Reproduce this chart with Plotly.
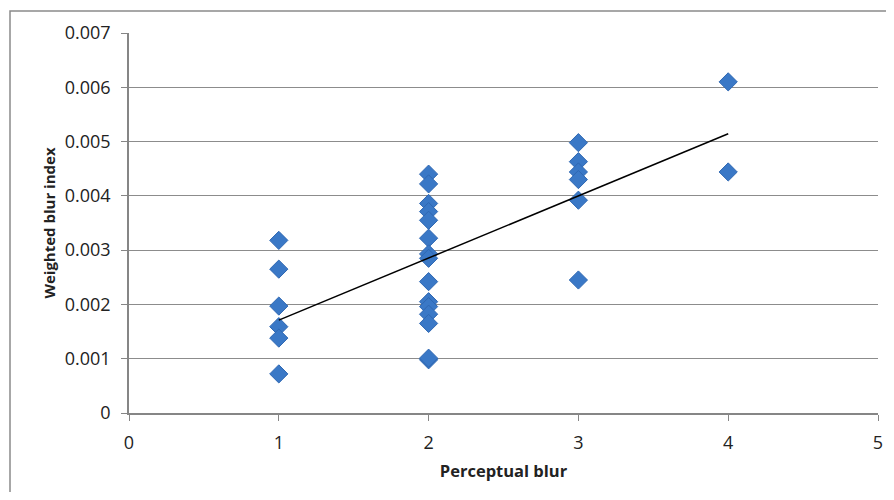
import numpy as np
import plotly.graph_objects as go

# Data
perceptual_blur = [1, 1, 1, 1, 1, 1,
                   2, 2, 2, 2, 2, 2, 2, 2, 2, 2, 2, 2, 2, 2, 2,
                   3, 3, 3, 3, 3, 3,
                   4, 4]
weighted_blur_index = [0.00318, 0.00265, 0.00197, 0.00159, 0.00138, 0.00072,
                       0.00440, 0.00422, 0.00386, 0.00371, 0.00355, 0.00322, 0.00293,
                       0.00285, 0.00242, 0.00205, 0.00196, 0.00182, 0.00165, 0.00098, 0.00101,
                       0.00498, 0.00463, 0.00444, 0.00430, 0.00392, 0.00245,
                       0.00610, 0.00444]

x_ticks = [0, 1, 2, 3, 4, 5]
y_ticks = [0, 0.001, 0.002, 0.003, 0.004, 0.005, 0.006, 0.007]
y_tick_labels = ["0", "0.001", "0.002", "0.003", "0.004", "0.005", "0.006", "0.007"]

x_title = "Perceptual blur"
y_title = "Weighted blur index"

# Linear trendline (least squares) over the data range
xa = np.array(perceptual_blur, dtype=float)
ya = np.array(weighted_blur_index, dtype=float)
slope, intercept = np.polyfit(xa, ya, 1)
trend_x = [xa.min(), xa.max()]
trend_y = [slope * v + intercept for v in trend_x]

font_family = "Open Sans, Lato, sans-serif"

fig = go.Figure()
fig.add_trace(go.Scatter(
    x=perceptual_blur, y=weighted_blur_index, mode="markers",
    marker=dict(symbol="diamond", size=14, color="#3a78c6",
                line=dict(color="#2f68b3", width=1)),
    showlegend=False, hoverinfo="x+y",
))
fig.add_trace(go.Scatter(
    x=trend_x, y=trend_y, mode="lines",
    line=dict(color="black", width=1.5),
    showlegend=False, hoverinfo="skip",
))

fig.update_layout(
    width=878, height=484,
    margin=dict(l=121, r=8, t=25, b=79, autoexpand=False),
    paper_bgcolor="white", plot_bgcolor="white",
    font=dict(family=font_family, size=18, color="#222222"),
    xaxis=dict(
        range=[0, 5], tickvals=x_ticks, ticktext=[str(v) for v in x_ticks],
        showgrid=False, zeroline=False, automargin=False,
        showline=True, linecolor="#868686", linewidth=1.5,
        ticks="outside", ticklen=6, tickcolor="#868686", tickwidth=1,
        tickfont=dict(size=18), ticklabelstandoff=7,
        title=dict(text="<b>" + x_title + "</b>", font=dict(size=16.5), standoff=12),
    ),
    yaxis=dict(
        range=[0, 0.007], tickvals=y_ticks, ticktext=y_tick_labels,
        showgrid=True, gridcolor="#8c8c8c", gridwidth=1, zeroline=False, automargin=False,
        showline=True, linecolor="#868686", linewidth=1.5,
        ticks="outside", ticklen=6, tickcolor="#868686", tickwidth=1,
        tickfont=dict(size=18), ticklabelstandoff=7,
        title=dict(text="<b>" + y_title + "</b>", font=dict(size=15), standoff=5),
    ),
    shapes=[dict(
        type="rect", xref="paper", yref="paper",
        x0=(10 - 129) / 749, x1=1.2, y0=-0.4, y1=(413 - 11) / 380,
        line=dict(color="#8a8a8a", width=1.5), fillcolor="rgba(0,0,0,0)",
        layer="below",
    )],
)

fig.write_html("out.html")
